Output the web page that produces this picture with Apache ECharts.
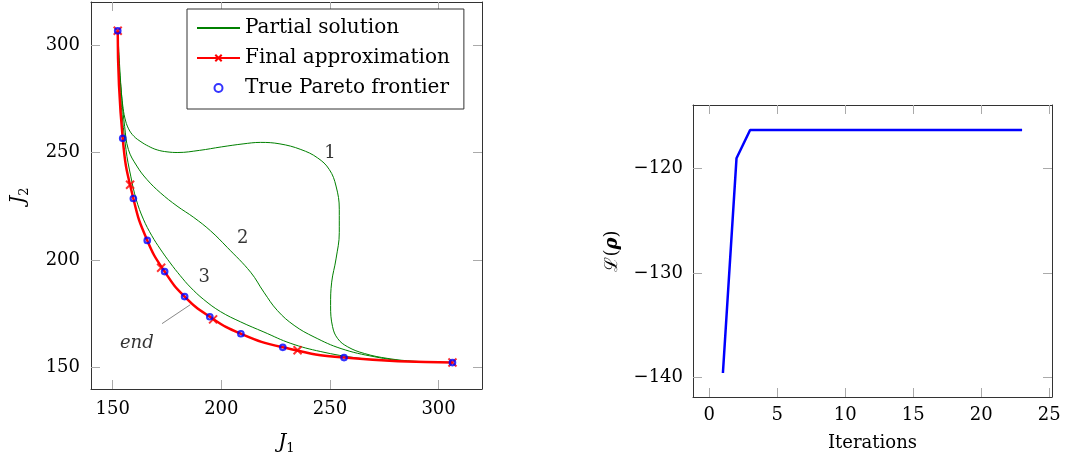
<!DOCTYPE html>
<html>
<head>
<meta charset="utf-8">
<script src="https://cdn.jsdelivr.net/npm/echarts@6/dist/echarts.min.js"></script>
<style>
  html, body {margin: 0; padding: 0; background: #fff;}
  #main {width: 1067px; height: 460px;}
</style>
</head>
<body>
<div id="main"></div>
<script>
// left panel: true frontier and final approximation
const frontierX = [152.3, 154.6, 159.5, 165.9, 173.9, 183.1, 194.7, 209.0, 228.3, 256.5, 306.4]
const frontierY = [306.6, 256.6, 228.6, 209.1, 194.6, 183.0, 173.6, 165.7, 159.4, 154.6, 152.3]
const approxX = [152.3, 158.0, 172.3, 196.2, 235.1, 306.4]
const approxY = [306.6, 235.0, 196.4, 172.4, 158.0, 152.3]

// partial solutions (traced), [J1, J2]
const partial1 = [[152.3, 306.6], [153.0, 290.0], [153.8, 280.0], [154.6, 272.0], [155.6, 266.0], [157.3, 261.0],
    [159.8, 257.5], [163.0, 255.0], [166.5, 252.9], [170.5, 251.2], [175.0, 250.3], [180.0, 250.0], [190.0, 251.0],
    [200.0, 252.6], [210.0, 254.0], [218.0, 254.7], [227.0, 254.0], [236.6, 251.4], [244.3, 247.5], [249.7, 242.1],
    [252.8, 234.4], [254.3, 223.6], [254.3, 212.8], [252.8, 200.5], [250.8, 189.7], [250.3, 178.8], [251.2, 169.0],
    [253.6, 163.4], [258.2, 159.6], [265.9, 156.5], [276.7, 154.2], [289.0, 152.9], [306.4, 152.3]]
const partial2 = [[152.3, 306.6], [153.2, 290.0], [154.2, 275.0], [155.5, 262.0], [157.2, 251.4], [161.1, 243.7],
    [165.7, 237.5], [171.9, 231.3], [179.6, 225.1], [187.3, 219.8], [195.0, 213.6], [202.7, 205.9], [213.5, 194.3],
    [219.6, 185.0], [225.8, 176.5], [233.5, 169.6], [242.7, 164.2], [255.1, 158.8], [270.5, 155.0], [285.9, 152.9],
    [306.4, 152.3]]
const partial3 = [[152.3, 306.6], [153.5, 278.0], [156.1, 251.4], [158.3, 239.0], [160.8, 228.2], [164.1, 219.0],
    [168.0, 211.3], [171.9, 205.1], [176.5, 198.6], [181.1, 192.7], [185.7, 187.4], [191.9, 181.6], [199.6, 176.0],
    [208.9, 171.2], [219.6, 166.5], [232.0, 161.2], [245.8, 157.4], [262.8, 154.4], [278.2, 153.1], [306.4, 152.3]]

const curveLabels = ['1', '2', '3']
const curveLabelX = [250.0, 209.9, 192.1]
const curveLabelY = [249.5, 210.0, 191.8]
const endLabel = [161.1, 161.4]
const endPointer = [[172.7, 170.4], [185.7, 179.2]]

const j1Ticks = [150, 200, 250, 300]
const j2Ticks = [150, 200, 250, 300]

// right panel
const iterations = [1, 2, 3, 4, 5, 6, 7, 8, 9, 10, 11, 12, 13, 14, 15, 16, 17, 18, 19, 20, 21, 22, 23]
const likelihood = [-139.6, -119.0, -116.3, -116.3, -116.3, -116.3, -116.3, -116.3, -116.3, -116.3, -116.3, -116.3,
    -116.3, -116.3, -116.3, -116.3, -116.3, -116.3, -116.3, -116.3, -116.3, -116.3, -116.3]
const iterTicks = [0, 5, 10, 15, 20, 25]
const likeTicks = [-140, -130, -120]

const FONT = 'DejaVu Serif'
const crossPath = 'path://M0,0L8,8M8,0L0,8'

const frameAxis = (extra) => Object.assign({
    type: 'value',
    axisLine: {show: true, onZero: false, lineStyle: {color: '#333', width: 1}},
    axisTick: {show: true, inside: true, length: 9, lineStyle: {color: '#999'}},
    axisLabel: {show: false},
    splitLine: {show: false}
}, extra)

const ticks = vals => ({show: true, inside: true, length: 9, lineStyle: {color: '#aaa'}, customValues: vals})
const tickLabel = {show: true, color: '#000', fontFamily: FONT, fontSize: 18}
const minus = v => String(v).replace('-', '\u2212')

const partialSeries = [partial1, partial2, partial3].map(d => ({
    name: 'Partial solution',
    type: 'line',
    xAxisIndex: 0,
    yAxisIndex: 0,
    data: d,
    smooth: 0.4,
    symbol: 'none',
    lineStyle: {color: '#008000', width: 1},
    itemStyle: {color: '#008000', opacity: 0},
    z: 2
}))

const myChart = echarts.init(document.getElementById('main'))
const option = {
    animation: false,
    backgroundColor: '#fff',
    grid: [
        {left: 91, right: 585, top: 2, bottom: 70},
        {left: 693, right: 15, top: 105, bottom: 63}
    ],
    legend: {
        data: ['Partial solution', 'Final approximation', 'True Pareto frontier'],
        orient: 'vertical',
        left: 187,
        top: 9,
        itemWidth: 43,
        itemHeight: 8,
        itemGap: 10,
        padding: [9, 14, 11, 9],
        borderColor: '#333',
        borderWidth: 1,
        borderRadius: 0,
        backgroundColor: '#fff',
        textStyle: {fontFamily: FONT, fontSize: 20, color: '#000', lineHeight: 20}
    },
    xAxis: [
        frameAxis({
            gridIndex: 0, position: 'bottom', min: 140, max: 320,
            axisTick: ticks(j1Ticks),
            axisLabel: Object.assign({margin: 11, customValues: j1Ticks}, tickLabel),
            name: '{i|J}{s|1}', nameLocation: 'middle', nameGap: 42,
            nameTextStyle: {rich: {
                i: {fontFamily: FONT, fontStyle: 'italic', fontSize: 20, color: '#000', lineHeight: 24},
                s: {fontFamily: FONT, fontSize: 13, color: '#000', lineHeight: 14, verticalAlign: 'bottom'}
            }}
        }),
        frameAxis({gridIndex: 0, position: 'top', min: 140, max: 320, axisTick: ticks(j1Ticks)}),
        frameAxis({
            gridIndex: 1, position: 'bottom', min: -1.2, max: 25.2,
            axisTick: ticks(iterTicks),
            axisLabel: Object.assign({margin: 9, customValues: iterTicks}, tickLabel),
            name: 'Iterations', nameLocation: 'middle', nameGap: 37,
            nameTextStyle: {fontFamily: FONT, fontSize: 18, color: '#000'}
        }),
        frameAxis({gridIndex: 1, position: 'top', min: -1.2, max: 25.2, axisTick: ticks(iterTicks)})
    ],
    yAxis: [
        frameAxis({
            gridIndex: 0, position: 'left', min: 140, max: 320,
            axisTick: ticks(j2Ticks),
            axisLabel: Object.assign({margin: 11, customValues: j2Ticks}, tickLabel),
            name: '{i|J}{s|2}', nameLocation: 'middle', nameGap: 60, nameRotate: 90,
            nameTextStyle: {rich: {
                i: {fontFamily: FONT, fontStyle: 'italic', fontSize: 20, color: '#000', lineHeight: 24},
                s: {fontFamily: FONT, fontSize: 13, color: '#000', lineHeight: 14, verticalAlign: 'bottom'}
            }}
        }),
        frameAxis({gridIndex: 0, position: 'right', min: 140, max: 320, axisTick: ticks(j2Ticks)}),
        frameAxis({
            gridIndex: 1, position: 'left', min: -141.9, max: -113.9,
            axisTick: ticks(likeTicks),
            axisLabel: Object.assign({margin: 10, customValues: likeTicks, formatter: minus}, tickLabel),
            name: '{n|\u2112(}{b|\u03c1}{n|)}', nameLocation: 'middle', nameGap: 72, nameRotate: 90,
            nameTextStyle: {rich: {
                n: {fontFamily: FONT, fontSize: 18, color: '#000'},
                b: {fontFamily: FONT, fontSize: 18, fontStyle: 'italic', fontWeight: 'bold', color: '#000'}
            }}
        }),
        frameAxis({gridIndex: 1, position: 'right', min: -141.9, max: -113.9, axisTick: ticks(likeTicks)})
    ],
    series: [
        ...partialSeries,
        {
            // smooth red curve through the frontier points; symbol kept for the legend icon
            name: 'Final approximation',
            type: 'line',
            xAxisIndex: 0,
            yAxisIndex: 0,
            data: frontierX.map((x, i) => ({value: [x, frontierY[i]], symbol: 'none'})),
            smooth: 0.5,
            symbol: crossPath,
            symbolSize: 8,
            lineStyle: {color: '#ff0000', width: 2.5},
            itemStyle: {color: '#ff0000', borderColor: '#ff0000', borderWidth: 2},
            z: 3
        },
        {
            name: 'Final approximation',
            type: 'scatter',
            xAxisIndex: 0,
            yAxisIndex: 0,
            data: approxX.map((x, i) => [x, approxY[i]]),
            symbol: crossPath,
            symbolSize: 8,
            itemStyle: {color: '#ff0000', borderColor: '#ff0000', borderWidth: 2},
            z: 4
        },
        {
            name: 'True Pareto frontier',
            type: 'scatter',
            xAxisIndex: 0,
            yAxisIndex: 0,
            data: frontierX.map((x, i) => [x, frontierY[i]]),
            symbol: 'circle',
            symbolSize: 5.5,
            itemStyle: {color: 'rgba(255,255,255,0)', borderColor: '#0000ff', borderWidth: 2.2},
            z: 5
        },
        {
            name: 'labels',
            type: 'scatter',
            xAxisIndex: 0,
            yAxisIndex: 0,
            silent: true,
            symbolSize: 0,
            data: curveLabels.map((t, i) => ({name: t, value: [curveLabelX[i], curveLabelY[i]]}))
                .concat([{name: 'end', value: endLabel, label: {fontStyle: 'italic'}}]),
            label: {show: true, position: 'inside', formatter: p => p.name,
                fontFamily: FONT, fontSize: 18, color: '#000'},
            markLine: {
                silent: true,
                symbol: 'none',
                label: {show: false},
                lineStyle: {color: '#888', width: 1, type: 'solid'},
                data: [[{coord: endPointer[0]}, {coord: endPointer[1]}]]
            },
            z: 6
        },
        {
            name: 'L(rho)',
            type: 'line',
            xAxisIndex: 2,
            yAxisIndex: 2,
            data: iterations.map((x, i) => [x, likelihood[i]]),
            symbol: 'none',
            lineStyle: {color: '#0000ff', width: 2.5},
            itemStyle: {color: '#0000ff'}
        }
    ]
}
myChart.setOption(option)
</script>
</body>
</html>
